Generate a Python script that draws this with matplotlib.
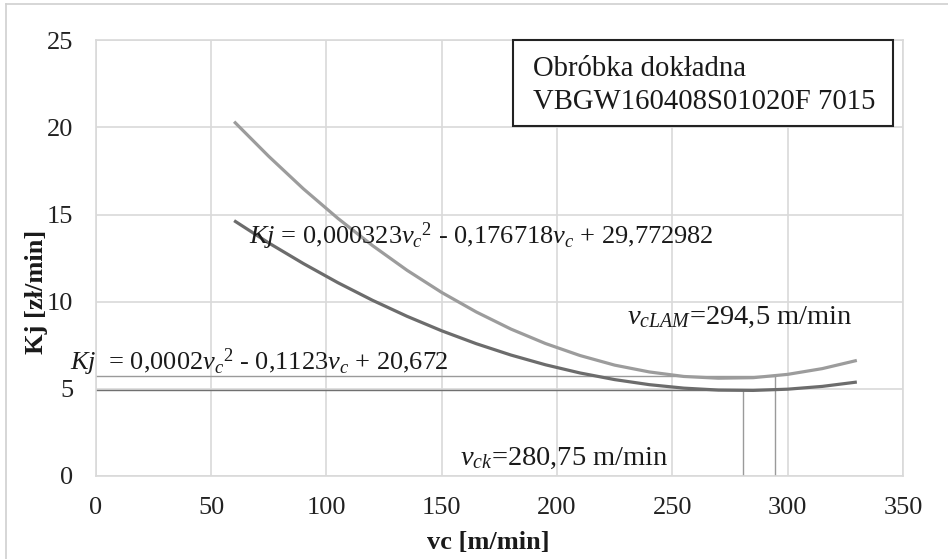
import matplotlib
matplotlib.use("Agg")
import matplotlib.pyplot as plt
from matplotlib.patches import Rectangle
from matplotlib.lines import Line2D

plt.rcParams['font.family'] = ['Liberation Serif', 'DejaVu Serif']
plt.rcParams['mathtext.fontset'] = 'custom'
plt.rcParams['mathtext.rm'] = 'Liberation Serif'
plt.rcParams['mathtext.it'] = 'Liberation Serif:italic'
plt.rcParams['mathtext.bf'] = 'Liberation Serif:bold'

# cutting speed [m/min]
vc = [60, 75, 90, 105, 120, 135, 150, 165, 180, 195, 210, 225, 240, 255, 270, 285, 300, 315, 330]
# unit cost, upper (light) curve
kj_lam = [20.33, 18.34, 16.48, 14.78, 13.22, 11.80, 10.53, 9.41, 8.43, 7.60, 6.91,
          6.36, 5.97, 5.71, 5.61, 5.64, 5.83, 6.16, 6.63]
# unit cost, lower (dark) curve
kj_k = [14.65, 13.37, 12.19, 11.09, 10.08, 9.16, 8.33, 7.59, 6.94, 6.38, 5.91,
        5.53, 5.24, 5.04, 4.93, 4.91, 4.98, 5.14, 5.39]

# optimum points
vc_k, kj_k_min = 280.75, 4.91
vc_lam, kj_lam_min = 294.5, 5.74

xticks = [0, 50, 100, 150, 200, 250, 300, 350]
yticks = [0, 5, 10, 15, 20, 25]

fig = plt.figure(figsize=(9.48, 5.59), dpi=100)
ax = fig.add_axes([0.101, 0.1485, 0.8515, 0.7795])

grid_c = '#d9d9d9'
ax.set_xlim(0, 350)
ax.set_ylim(0, 25)
ax.set_xticks(xticks)
ax.set_yticks(yticks)
ax.grid(True, color=grid_c, linewidth=1.2)
ax.set_axisbelow(True)
for s in ax.spines.values():
    s.set_color(grid_c)
    s.set_linewidth(1.2)
ax.tick_params(length=0, labelsize=19, colors='#222222')
ax.tick_params(axis='x', pad=15)
ax.tick_params(axis='y', pad=16)

# reference lines to the minima
ax.plot([0, vc_k], [kj_k_min, kj_k_min], color='#707070', lw=1.0)
ax.plot([vc_k, vc_k], [0, kj_k_min], color='#9a9a9a', lw=1.0)
ax.plot([0, vc_lam], [kj_lam_min, kj_lam_min], color='#9a9a9a', lw=1.0)
ax.plot([vc_lam, vc_lam], [0, kj_lam_min], color='#9a9a9a', lw=1.0)

ax.plot(vc, kj_lam, color='#9c9c9c', lw=2.3, solid_capstyle='butt')
ax.plot(vc, kj_k, color='#6c6c6c', lw=2.3, solid_capstyle='butt')

fs = 19
ax.text(66.5, 13.3, r'$Kj$ = 0,000323$v_c$$^2$ - 0,176718$v_c$ + 29,772982',
        fontsize=fs, va='baseline', ha='left', color='#1a1a1a')
ax.text(-11.3, 6.1, r'$Kj$  = 0,0002$v_c$$^2$ - 0,1123$v_c$ + 20,672',
        fontsize=fs, va='baseline', ha='left', color='#1a1a1a', clip_on=False)
ax.text(230.3, 8.75, r'$v_{cLAM}$=294,5 m/min',
        fontsize=20.5, va='baseline', ha='left', color='#1a1a1a')
ax.text(157.8, 0.63, r'$v_{ck}$=280,75 m/min',
        fontsize=20.5, va='baseline', ha='left', color='#1a1a1a')

# description box
ax.add_patch(Rectangle((180.8, 20.07), 164.8, 4.93, facecolor='white',
                       edgecolor='#222222', lw=1.5, zorder=5, clip_on=False))
ax.text(189.5, 22.94, 'Obróbka dokładna', fontsize=20.7, va='baseline',
        ha='left', color='#1a1a1a', zorder=6)
ax.text(189.5, 21.04, 'VBGW160408S01020F 7015', fontsize=20.7, va='baseline',
        ha='left', color='#1a1a1a', zorder=6)

# axis titles
fig.text(488 / 948, 1 - 549 / 559, 'vc [m/min]', fontsize=19, fontweight='bold',
         ha='center', va='baseline', color='#1a1a1a')
fig.text(36 / 948, 1 - 292 / 559, 'Kj [zł/min]', fontsize=19, fontweight='bold',
         rotation=90, ha='center', va='center', color='#1a1a1a')

# thin outer frame (top and left edges visible)
fig.add_artist(Line2D([6 / 948, 1], [1 - 4 / 559, 1 - 4 / 559], color='#d0d0d0', lw=1.2))
fig.add_artist(Line2D([6 / 948, 6 / 948], [0, 1 - 4 / 559], color='#d0d0d0', lw=1.2))

fig.savefig('out.png', dpi=100)
